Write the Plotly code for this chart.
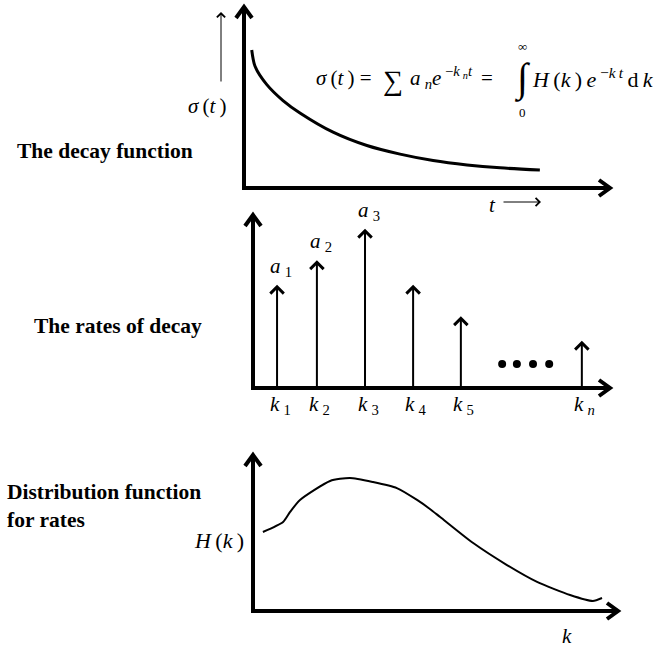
import plotly.graph_objects as go

W, H = 656, 648
FONT = "Liberation Serif, Times New Roman, DejaVu Serif, serif"

# ---- data (schematic units) ----
# panel 1: decay function sigma(t)
t_vals = [0.21, 0.30, 0.62, 1.06, 1.52, 2.42, 3.34, 4.24, 5.14, 6.06, 6.96, 8.04]
sigma_vals = [0.754, 0.665, 0.565, 0.478, 0.410, 0.305, 0.232, 0.185, 0.150, 0.126, 0.110, 0.098]

# panel 2: discrete rates k_n with amplitudes a_n
k_pos = [0.67, 1.78, 3.12, 4.46, 5.79, 9.16]
a_amp = [0.59, 0.73, 0.91, 0.59, 0.41, 0.27]
k_labels = ["1", "2", "3", "4", "5", "<i>n</i>"]
a_labels = ["1", "2", "3"]
dots_x = [6.94, 7.35, 7.80, 8.25]
dots_y = [0.137, 0.137, 0.137, 0.137]

# panel 3: distribution function H(k)
k_cont = [0.27, 0.82, 1.01, 1.28, 2.10, 2.64, 3.27, 3.92, 4.47, 4.82, 5.10, 6.00, 6.92, 7.74, 8.64, 9.26, 9.51]
H_vals = [0.50, 0.563, 0.627, 0.703, 0.823, 0.842, 0.816, 0.778, 0.703, 0.646, 0.595, 0.430, 0.291, 0.184, 0.101, 0.063, 0.082]

def px(x):
    return x / W

def py(y):
    return 1 - y / H

# panel pixel boxes: (left, right, bottom, top)
boxes = [(244, 612, 188, 5), (253, 612, 388, 213), (253, 620, 611, 453)]

fig = go.Figure()

fig.add_trace(go.Scatter(x=t_vals, y=sigma_vals, mode="lines", line=dict(color="black", width=3, shape="spline", smoothing=0.8),
                         xaxis="x", yaxis="y", hoverinfo="skip"))
fig.add_trace(go.Scatter(x=dots_x, y=dots_y, mode="markers", marker=dict(color="black", size=8),
                         xaxis="x2", yaxis="y2", hoverinfo="skip"))
fig.add_trace(go.Scatter(x=k_cont, y=H_vals, mode="lines", line=dict(color="black", width=2, shape="spline", smoothing=0.6),
                         xaxis="x3", yaxis="y3", hoverinfo="skip"))

layout_axes = {}
annotations = []
shapes = []
LW = 4
for i, (l, r, b, t) in enumerate(boxes, start=1):
    sfx = "" if i == 1 else str(i)
    layout_axes["xaxis" + sfx] = dict(domain=[px(l), px(r)], range=[0, 10], visible=False,
                                      anchor="y" + sfx, fixedrange=True)
    layout_axes["yaxis" + sfx] = dict(domain=[py(b), py(t)], range=[0, 1], visible=False,
                                      anchor="x" + sfx, fixedrange=True)
    # axis lines
    shapes.append(dict(type="path", xref="paper", yref="paper",
                       path="M%f,%f L%f,%f L%f,%f" % (px(l), py(t + 3), px(l), py(b), px(r - 3), py(b)),
                       line=dict(color="black", width=LW)))
    # arrow heads (chevrons)
    shapes.append(dict(type="path", xref="paper", yref="paper",
                       path="M%f,%f L%f,%f L%f,%f" % (px(l - 8), py(t + 13), px(l), py(t + 2), px(l + 8), py(t + 13)),
                       line=dict(color="black", width=LW)))
    shapes.append(dict(type="path", xref="paper", yref="paper",
                       path="M%f,%f L%f,%f L%f,%f" % (px(r - 13), py(b - 8), px(r - 2), py(b), px(r - 13), py(b + 8)),
                       line=dict(color="black", width=LW)))

# spikes
for j, (k, a) in enumerate(zip(k_pos, a_amp)):
    annotations.append(dict(xref="x2", yref="y2", x=k, y=a, axref="x2", ayref="y2", ax=k, ay=0,
                            text="", showarrow=True, arrowhead=4, arrowwidth=2, arrowsize=1.3,
                            arrowcolor="black", standoff=0))
    annotations.append(dict(xref="x2", yref="y2", x=k, y=0, yshift=-17, xshift=3, showarrow=False,
                            text="<i>k</i>\u2009<sub>%s</sub>" % k_labels[j],
                            font=dict(family=FONT, size=21, color="black")))
for j, lab in enumerate(a_labels):
    annotations.append(dict(xref="x2", yref="y2", x=k_pos[j], y=a_amp[j], yshift=18, xshift=4,
                            showarrow=False, text="<i>a</i>\u2009<sub>%s</sub>" % lab,
                            font=dict(family=FONT, size=21, color="black")))

def txt(x, y, text, size=20, xanchor="center"):
    annotations.append(dict(xref="paper", yref="paper", x=px(x), y=py(y), text=text,
                            showarrow=False, xanchor=xanchor, yanchor="middle",
                            font=dict(family=FONT, size=size, color="black")))

# panel titles
txt(15, 151, "<b>The decay function</b>", 21.5, "left")
txt(32, 326, "<b>The rates of decay</b>", 21.5, "left")
annotations.append(dict(xref="paper", yref="paper", x=px(5), y=py(506), text="<b>Distribution function<br>for rates</b>",
                        showarrow=False, xanchor="left", yanchor="middle", align="left",
                        font=dict(family=FONT, size=21.5, color="black")))

# axis labels
txt(207, 106, "<i>σ</i>\u2009(<i>t</i>\u2009)", 21)
annotations.append(dict(xref="paper", yref="paper", x=px(221), y=py(12), ax=0, ay=71, axref="pixel", ayref="pixel",
                        text="", showarrow=True, arrowhead=4, arrowwidth=1, arrowsize=1.6, arrowcolor="black", standoff=0))
txt(492, 205, "<i>t</i>", 21)
annotations.append(dict(xref="paper", yref="paper", x=px(541), y=py(202), ax=-39, ay=0, axref="pixel", ayref="pixel",
                        text="", showarrow=True, arrowhead=4, arrowwidth=1, arrowsize=1.6, arrowcolor="black", standoff=0))
txt(219, 540, "<i>H</i>\u2009(<i>k</i>\u2009)", 22)
txt(567, 636, "<i>k</i>", 21)

# formula, in pieces
S = "\u2009"
txt(314, 78, "<i>σ</i>" + S + "(<i>t</i>" + S + ") =", 21, "left")
txt(393, 80, "∑", 28)
txt(408, 78, "<i>a</i>" + S + "<sub><i>n</i></sub><i>e</i><sup> −<i>k</i>" + S + "<sub><i>n</i></sub><i>t</i></sup>", 21, "left")
txt(487, 78, "=", 21)
txt(522, 79, "∫", 40)
txt(530, 78, "<i>H</i>" + S + "(<i>k</i>" + S + ")" + S + "<i>e</i><sup> −<i>k</i>" + S + "<i>t</i></sup>" + S + "d" + S + "<i>k</i>", 22, "left")
txt(522, 47, "∞", 13)
txt(522, 112, "0", 13)

fig.update_layout(width=W, height=H, margin=dict(l=0, r=0, t=0, b=0), showlegend=False,
                  paper_bgcolor="white", plot_bgcolor="white", annotations=annotations, shapes=shapes, **layout_axes)

fig.write_html("out.html", config={"displayModeBar": False},
               post_script="document.body.style.margin='0';document.body.style.padding='0';")
